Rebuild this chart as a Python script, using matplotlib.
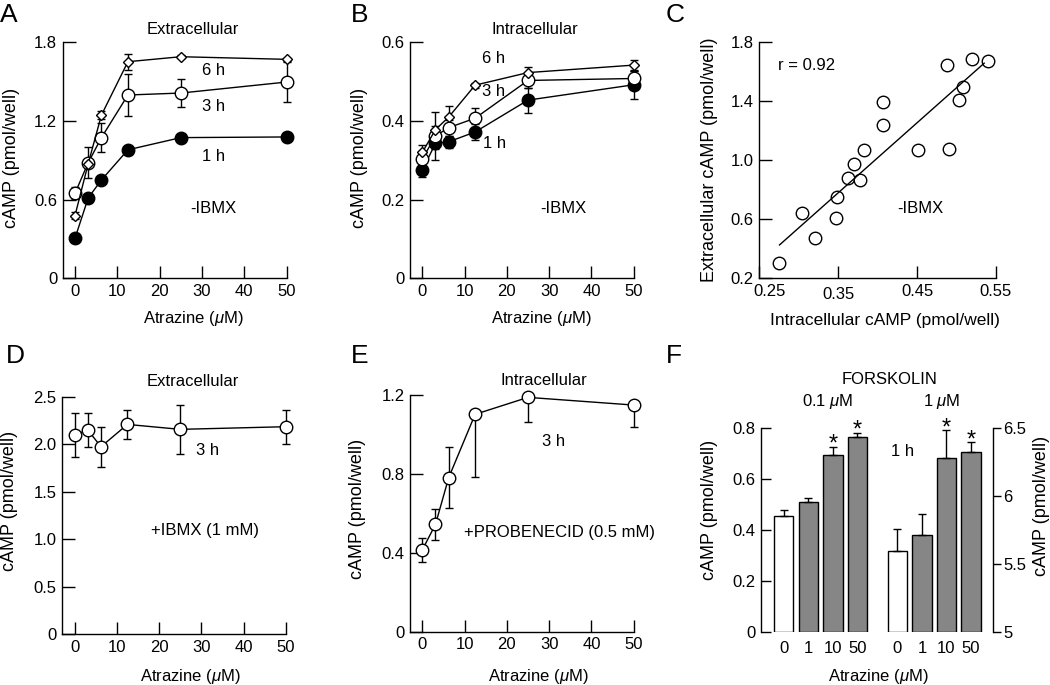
import numpy as np
import matplotlib
matplotlib.use('Agg')
import matplotlib.pyplot as plt
import matplotlib.transforms as mtransforms

W, H = 1050, 685
plt.rcParams['font.family'] = ['Liberation Sans', 'DejaVu Sans']
plt.rcParams['mathtext.fontset'] = 'custom'
plt.rcParams['mathtext.rm'] = 'Liberation Sans'
plt.rcParams['mathtext.it'] = 'Liberation Sans:italic'
plt.rcParams['axes.linewidth'] = 1.0

# ---------------- data ----------------
conc = [0, 3.125, 6.25, 12.5, 25, 50]

A_1h = [0.305, 0.613, 0.750, 0.980, 1.073, 1.078]
A_1h_err = [0.012, 0.012, 0.030, 0.020, 0.010, 0.020]
A_3h = [0.648, 0.882, 1.073, 1.398, 1.413, 1.497]
A_3h_err = [0.045, 0.120, 0.110, 0.160, 0.105, 0.150]
A_6h = [0.478, 0.875, 1.245, 1.652, 1.690, 1.670]
A_6h_err = [0.025, 0.020, 0.030, 0.060, 0.012, 0.012]

B_1h = [0.275, 0.343, 0.347, 0.372, 0.453, 0.492]
B_1h_err = [0.017, 0.015, 0.015, 0.020, 0.032, 0.035]
B_3h = [0.303, 0.362, 0.383, 0.407, 0.503, 0.508]
B_3h_err = [0.020, 0.060, 0.020, 0.025, 0.020, 0.020]
B_6h = [0.320, 0.378, 0.410, 0.491, 0.523, 0.542]
B_6h_err = [0.020, 0.010, 0.028, 0.006, 0.015, 0.012]

C_intra = [0.2756, 0.304, 0.321, 0.347, 0.349, 0.362, 0.370, 0.378, 0.383,
           0.407, 0.407, 0.451, 0.490, 0.488, 0.503, 0.508, 0.520, 0.540]
C_extra = [0.302, 0.645, 0.473, 0.609, 0.749, 0.883, 0.975, 0.864, 1.070,
           1.398, 1.237, 1.070, 1.077, 1.644, 1.411, 1.495, 1.687, 1.671]
C_fit_slope = 4.75
C_fit_intercept = -0.883
C_fit_range = [0.2756, 0.535]
C_r = 0.92

D_3h = [2.096, 2.149, 1.973, 2.208, 2.156, 2.184]
D_3h_err = [0.23, 0.18, 0.21, 0.15, 0.26, 0.18]

E_3h = [0.414, 0.544, 0.781, 1.102, 1.188, 1.149]
E_err_lo = [0.060, 0.080, 0.155, 0.320, 0.123, 0.113]
E_err_hi = [0.060, 0.080, 0.155, 0.0, 0.0, 0.0]

F_labels = ['0', '1', '10', '50']
F_low = [0.455, 0.511, 0.694, 0.767]        # forskolin 0.1 uM (left axis)
F_low_err = [0.022, 0.016, 0.034, 0.016]
F_high = [5.593, 5.711, 6.279, 6.323]       # forskolin 1 uM (right axis)
F_high_err = [0.162, 0.155, 0.209, 0.076]
F_sig = [False, False, True, True]

MU = r'$\mathit{μ}$'
XLAB = 'Atrazine (' + MU + 'M)'
YLAB = 'cAMP (pmol/well)'

fig = plt.figure(figsize=(W / 100, H / 100), dpi=100)


def axbox(l, t, r, b):
    return fig.add_axes([l / W, 1 - b / H, (r - l) / W, (b - t) / H])


def ftext(x, y, s, **kw):
    kw.setdefault('ha', 'center')
    kw.setdefault('va', 'center')
    kw.setdefault('fontsize', 12)
    fig.text(x / W, 1 - y / H, s, **kw)


def style(ax):
    for s in ['top', 'right']:
        ax.spines[s].set_visible(False)
    ax.tick_params(direction='in', length=9, width=1, labelsize=12, pad=4)


def series(ax, y, err, marker, fc, ms):
    ax.errorbar(conc, y, yerr=err, fmt='-', color='k', lw=1, marker=marker,
                mfc=fc, mec='k', ms=ms, mew=1, ecolor='k', elinewidth=1,
                capsize=2.6, capthick=1, clip_on=False)


conc_ticks = [0, 10, 20, 30, 40, 50]

# ---------------- A ----------------
axA = axbox(62.7, 42.3, 286.7, 278.3)
style(axA)
series(axA, A_1h, A_1h_err, 'o', 'k', 9)
series(axA, A_3h, A_3h_err, 'o', 'w', 9)
series(axA, A_6h, A_6h_err, 'D', 'w', 5)
axA.set_xlim(-2.9, 50)
axA.set_ylim(0, 1.8)
axA.set_xticks(conc_ticks)
axA.set_yticks([0, 0.6, 1.2, 1.8])
axA.set_yticklabels(['0', '0.6', '1.2', '1.8'])
for x, y, s in [(32.7, 1.584, '6 h'), (32.7, 1.314, '3 h'),
                (32.7, 0.928, '1 h'), (32.7, 0.534, '-IBMX')]:
    axA.text(x, y, s, ha='center', va='center', fontsize=12)
ftext(193, 30, 'Extracellular')
ftext(12, 158, YLAB, rotation=90, fontsize=13)
ftext(193, 319, XLAB)
ftext(9, 15, 'A', fontsize=19)

# ---------------- B ----------------
axB = axbox(410, 42.3, 633.7, 278.3)
style(axB)
series(axB, B_1h, B_1h_err, 'o', 'k', 9)
series(axB, B_3h, B_3h_err, 'o', 'w', 9)
series(axB, B_6h, B_6h_err, 'D', 'w', 5)
axB.set_xlim(-2.9, 50)
axB.set_ylim(0, 0.6)
axB.set_xticks(conc_ticks)
axB.set_yticks([0, 0.2, 0.4, 0.6])
axB.set_yticklabels(['0', '0.2', '0.4', '0.6'])
for x, y, s in [(16.8, 0.559, '6 h'), (16.8, 0.475, '3 h'),
                (17.2, 0.342, '1 h'), (33.4, 0.178, '-IBMX')]:
    axB.text(x, y, s, ha='center', va='center', fontsize=12)
ftext(535, 30, 'Intracellular')
ftext(360, 158, YLAB, rotation=90, fontsize=13)
ftext(541, 319, XLAB)
ftext(360, 15, 'B', fontsize=19)

# ---------------- C ----------------
axC = axbox(759.3, 42.3, 996, 278.3)
style(axC)
axC.plot(C_intra, C_extra, 'o', mfc='w', mec='k', ms=9, mew=1, clip_on=False)
fx = np.array(C_fit_range)
axC.plot(fx, C_fit_slope * fx + C_fit_intercept, '-', color='k', lw=1)
axC.set_xlim(0.25, 0.55)
axC.set_ylim(0.2, 1.8)
axC.set_xticks([0.25, 0.35, 0.45, 0.55])
axC.set_xticklabels(['0.25', '0.35', '0.45', '0.55'])
axC.set_yticks([0.2, 0.6, 1.0, 1.4, 1.8])
axC.set_yticklabels(['0.2', '0.6', '1.0', '1.4', '1.8'])
# nudge x tick labels as in the original artwork
xt_labels = axC.get_xticklabels()
for lab, (dx, dy) in zip(xt_labels, [(10, 0), (0, -3), (0, 0), (0, 0)]):
    lab.set_transform(lab.get_transform() +
                      mtransforms.ScaledTranslation(dx / 100, dy / 100,
                                                    fig.dpi_scale_trans))
axC.text(0.2735, 1.645, 'r = %.2f' % C_r, ha='left', va='center', fontsize=12)
axC.text(0.454, 0.675, '-IBMX', ha='center', va='center', fontsize=12)
ftext(710, 160, 'Extracellular cAMP (pmol/well)', rotation=90, fontsize=13)
ftext(885, 320, 'Intracellular cAMP (pmol/well)', fontsize=12.5)
ftext(675, 15, 'C', fontsize=19)

# ---------------- D ----------------
axD = axbox(62.3, 396.7, 286, 634)
style(axD)
series(axD, D_3h, D_3h_err, 'o', 'w', 9)
axD.set_xlim(-2.9, 50)
axD.set_ylim(0, 2.5)
axD.set_xticks(conc_ticks)
axD.set_yticks([0, 0.5, 1.0, 1.5, 2.0, 2.5])
axD.set_yticklabels(['0', '0.5', '1.0', '1.5', '2.0', '2.5'])
axD.text(31.4, 1.93, '3 h', ha='center', va='center', fontsize=12)
axD.text(30.8, 1.095, '+IBMX (1 mM)', ha='center', va='center', fontsize=12)
ftext(193, 381.7, 'Extracellular')
ftext(10, 501, YLAB, rotation=90, fontsize=13)
ftext(190, 677, XLAB)
ftext(15, 356, 'D', fontsize=19)

# ---------------- E ----------------
axE = axbox(410, 395, 633.7, 631.7)
style(axE)
axE.errorbar(conc, E_3h, yerr=[E_err_lo, E_err_hi], fmt='-', color='k', lw=1,
             marker='o', mfc='w', mec='k', ms=9, mew=1, ecolor='k',
             elinewidth=1, capsize=2.6, capthick=1, clip_on=False)
axE.set_xlim(-2.9, 50)
axE.set_ylim(0, 1.2)
axE.set_xticks(conc_ticks)
axE.set_yticks([0, 0.4, 0.8, 1.2])
axE.set_yticklabels(['0', '0.4', '0.8', '1.2'])
axE.text(31, 0.963, '3 h', ha='center', va='center', fontsize=12)
axE.text(32.4, 0.502, '+PROBENECID (0.5 mM)', ha='center', va='center',
         fontsize=12)
ftext(544, 380.7, 'Intracellular')
ftext(358, 509, YLAB, rotation=90, fontsize=13)
ftext(538, 677, XLAB)
ftext(360, 356, 'E', fontsize=19)

# ---------------- F ----------------
axF = axbox(760.7, 428.3, 992.7, 631.7)
axF2 = axF.twinx()
pos1 = np.arange(4)
pos2 = np.arange(4) + 4.62
bw = 0.786
colors = ['w' if lab == '0' else '#868686' for lab in F_labels]
axF.bar(pos1, F_low, width=bw, color=colors, edgecolor='k', lw=1)
axF.errorbar(pos1, F_low, yerr=[np.zeros(4), F_low_err], fmt='none',
             ecolor='k', elinewidth=1, capsize=2.9, capthick=1)
axF2.bar(pos2, np.array(F_high) - 5, bottom=5, width=bw, color=colors,
         edgecolor='k', lw=1)
axF2.errorbar(pos2, F_high, yerr=[np.zeros(4), F_high_err], fmt='none',
              ecolor='k', elinewidth=1, capsize=2.9, capthick=1)
for p, v, e, s in zip(pos1, F_low, F_low_err, F_sig):
    if s:
        axF.annotate('*', (p, v + e), xytext=(0, -3), textcoords='offset points',
                     ha='center', va='baseline', fontsize=17)
for p, v, e, s in zip(pos2, F_high, F_high_err, F_sig):
    if s:
        axF2.annotate('*', (p, v + e), xytext=(0, -3), textcoords='offset points',
                      ha='center', va='baseline', fontsize=17)
axF.set_xlim(-0.935, 8.5)
axF.set_ylim(0, 0.8)
axF2.set_ylim(5, 6.5)
for s in ['top', 'right', 'bottom']:
    axF.spines[s].set_visible(False)
for s in ['top', 'left', 'bottom']:
    axF2.spines[s].set_visible(False)
axF.set_yticks([0, 0.2, 0.4, 0.6, 0.8])
axF.set_yticklabels(['0', '0.2', '0.4', '0.6', '0.8'])
axF.tick_params(axis='y', direction='in', length=7, width=1, labelsize=12, pad=4)
axF.set_xticks(list(pos1) + list(pos2))
axF.set_xticklabels(F_labels + F_labels)
axF.tick_params(axis='x', length=0, labelsize=12, pad=7)
axF2.set_yticks([5, 5.5, 6, 6.5])
axF2.set_yticklabels(['5', '5.5', '6', '6.5'])
axF2.tick_params(axis='y', direction='out', length=6, width=1, labelsize=12, pad=1.5)
ftext(890, 380, 'FORSKOLIN')
ftext(828, 401.7, '0.1 ' + MU + 'M')
ftext(941.7, 401.7, '1 ' + MU + 'M')
ftext(903, 451, '1 h')
ftext(710, 510, YLAB, rotation=90, fontsize=13)
ftext(1041.7, 506, YLAB, rotation=90, fontsize=13)
ftext(878, 677, XLAB)
ftext(674, 356, 'F', fontsize=19)

fig.savefig('out.png', dpi=100)
